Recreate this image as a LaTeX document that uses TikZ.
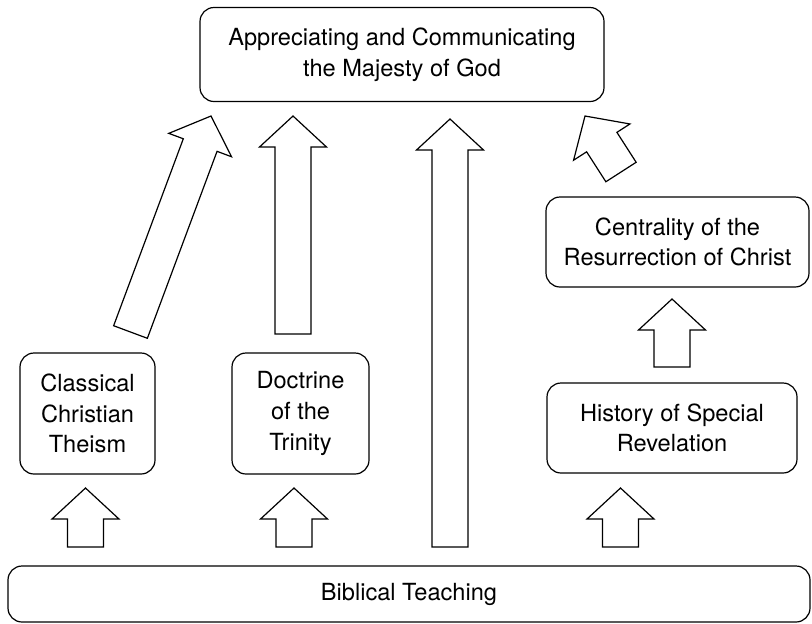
\documentclass[tikz,border=0pt]{standalone}
\usepackage{fontspec}
\setmainfont{TeX Gyre Heros}
\usetikzlibrary{calc}

\tikzset{
  topicbox/.style={draw, rounded corners=7pt, line width=0.6pt, align=center, inner sep=0pt,
    font=\fontsize{11.8}{15.3}\selectfont},
  hollowarrow/.style={draw, line width=0.6pt, fill=white, line join=miter},
}
% block arrow from tail #1 to tip #2
\newcommand{\blockarrow}[2]{%
  \path ($(#2)!15.5pt!(#1)$) coordinate (hb);
  \draw[hollowarrow] ($(#1)!9pt!90:(#2)$) -- ($(hb)!9pt!-90:(#1)$) -- ($(hb)!16.75pt!-90:(#1)$) -- (#2)
    -- ($(hb)!16.75pt!90:(#1)$) -- ($(hb)!9pt!90:(#1)$) -- ($(#1)!9pt!-90:(#2)$) -- cycle;
}

\begin{document}
\begin{tikzpicture}[x=0.5pt,y=0.5pt,yscale=-1,xscale=1]
\useasboundingbox (0,0) rectangle (812,623);

% Boxes
\node[topicbox, minimum width=202pt, minimum height=47pt] (majesty) at (402,54.5) {Appreciating and Communicating\\the Majesty of God};
\node[topicbox, minimum width=67.5pt, minimum height=60.5pt] (theism) at (87.5,413.5) {Classical\\Christian\\Theism};
\node[topicbox, minimum width=68.5pt, minimum height=60.5pt] (trinity) at (300.5,413.5) {Doctrine\\of the\\Trinity};
\node[topicbox, minimum width=131.5pt, minimum height=45pt] (resurrection) at (677.5,242) {Centrality of the\\Resurrection of Christ};
\node[topicbox, minimum width=125pt, minimum height=45pt] (revelation) at (672,428) {History of Special\\Revelation};
\node[topicbox, minimum width=401pt, minimum height=28pt] (bible) at (409,594) {Biblical Teaching};

% Arrow ends
\coordinate (t1) at (130.5,332);  \coordinate (h1) at (211,116);
\coordinate (t2) at (293,334);    \coordinate (h2) at (293,116);
\coordinate (t3) at (450,547);    \coordinate (h3) at (450,119);
\coordinate (t4) at (621,172);    \coordinate (h4) at (585,116);
\coordinate (t5) at (672,367);    \coordinate (h5) at (672,299);
\coordinate (t6) at (85.5,547);   \coordinate (h6) at (85.5,488);
\coordinate (t7) at (294,547);    \coordinate (h7) at (294,488);
\coordinate (t8) at (620.5,547);  \coordinate (h8) at (620.5,488);

% Block arrows
\blockarrow{t1}{h1}
\blockarrow{t2}{h2}
\blockarrow{t3}{h3}
\blockarrow{t4}{h4}
\blockarrow{t5}{h5}
\blockarrow{t6}{h6}
\blockarrow{t7}{h7}
\blockarrow{t8}{h8}
\end{tikzpicture}
\end{document}
